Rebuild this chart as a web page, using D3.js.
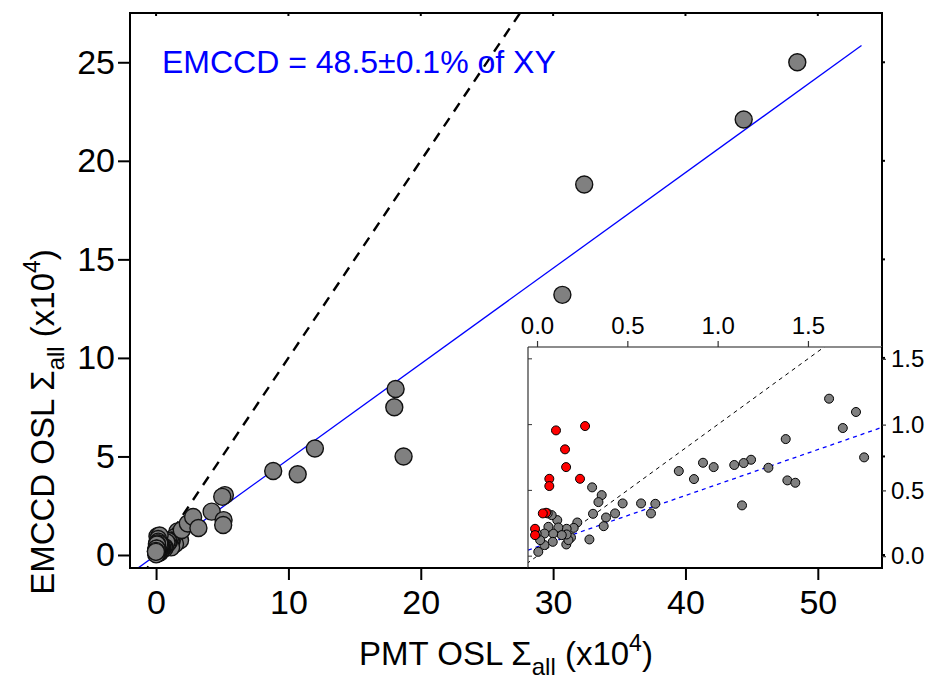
<!DOCTYPE html>
<html><head><meta charset="utf-8">
<script src="https://cdn.jsdelivr.net/npm/d3@7"></script>
<style>
body{margin:0;background:#fff}
svg{display:block}
text{font-family:"Liberation Sans",Arial,Helvetica,sans-serif}
</style>
</head><body>
<svg id="c" width="929" height="683"></svg>
<script>
// ---- data (x10^4 units) ----
const insetGrayX = [1.617,1.766,1.693,1.811,1.377,1.281,1.386,1.430,1.185,1.144,1.092,1.135,0.978,0.919,0.869,0.785,0.655,0.631,0.576,0.474,0.432,0.382,0.369,0.358,0.340,0.310,0.305,0.290,0.223,0.203,0.188,0.164,0.162,0.174,0.164,0.112,0.118,0.137,0.089,0.087,0.081,0.063,0.041,0.041,0.017,0.007,-0.002,0.059];
const insetGrayY = [1.197,1.096,0.974,0.751,0.890,0.672,0.576,0.558,0.733,0.708,0.693,0.386,0.677,0.710,0.586,0.647,0.398,0.325,0.401,0.401,0.325,0.294,0.228,0.464,0.411,0.322,0.523,0.127,0.256,0.215,0.142,0.208,0.089,0.122,0.165,0.274,0.218,0.160,0.172,0.109,0.312,0.223,0.172,0.084,0.122,0.033,0.172,0.325];
const insetRedX = [0.105,0.266,0.155,0.161,0.238,0.068,0.068,0.050,0.032,-0.011,-0.011];
const insetRedY = [0.956,0.989,0.812,0.677,0.588,0.588,0.533,0.330,0.325,0.208,0.160];
const extraX = [1.94,2.4,2.8,3.2,4.2,5.2,5.0,5.1,5.07,8.85,10.7,12.0,18.0,18.1,18.7,30.7,32.35,44.4,48.45];
const extraY = [1.27,1.6,1.93,1.37,2.2,3.04,2.95,1.77,1.52,4.26,4.1,5.4,7.5,8.42,5.0,13.2,18.8,22.1,25.0];

const xTicks = [0,10,20,30,40,50];
const yTicks = [0,5,10,15,20,25];
const insetXTicks = [0,0.5,1.0,1.5];
const insetYTicks = [0,0.5,1.0,1.5];

const fitSlope = 0.485;          // EMCCD = 48.5% of PMT
const fitXRange = [-1.6, 53.3];
const insetFitSlope = 0.476, insetFitIntercept = 0.07;
const titleText = "EMCCD = 48.5\u00B10.1% of XY";

// ---- layout ----
const svg = d3.select("#c");
const L = 130, R = 882, T = 13, B = 568;
const x = d3.scaleLinear([-1.97, 54.85], [L, R]);
const y = d3.scaleLinear([-0.66, 27.5], [B, T]);
const IL = 528, IR = 882, IT = 347, IB = 568;
const ix = d3.scaleLinear([-0.05, 1.91], [IL, IR]);
const iy = d3.scaleLinear([-0.09, 1.59], [IB, IT]);

svg.append("clipPath").attr("id","mc").append("rect").attr("x",L).attr("y",T).attr("width",R-L).attr("height",B-T);
svg.append("clipPath").attr("id","ic").append("rect").attr("x",IL).attr("y",IT).attr("width",IR-IL).attr("height",IB-IT);

const g = svg.append("g").attr("clip-path","url(#mc)");
// 1:1 line
g.append("line").attr("x1",x(-1)).attr("y1",y(-1)).attr("x2",x(28)).attr("y2",y(28))
  .attr("stroke","#000").attr("stroke-width",2.4).attr("stroke-dasharray","10,8");
// fit line
g.append("line").attr("x1",x(fitXRange[0])).attr("y1",y(fitSlope*fitXRange[0]))
  .attr("x2",x(fitXRange[1])).attr("y2",y(fitSlope*fitXRange[1]))
  .attr("stroke","#0000ff").attr("stroke-width",1.3);

const mainPts = [];
insetGrayX.forEach((v,i)=>mainPts.push([v,insetGrayY[i]]));
insetRedX.forEach((v,i)=>mainPts.push([v,insetRedY[i]]));
extraX.forEach((v,i)=>mainPts.push([v,extraY[i]]));
g.selectAll("circle.m").data(mainPts).join("circle").attr("class","m")
  .attr("cx",d=>x(d[0])).attr("cy",d=>y(d[1])).attr("r",8.5)
  .attr("fill","#808080").attr("stroke","#111").attr("stroke-width",1.4);

// frame
svg.append("rect").attr("x",L).attr("y",T).attr("width",R-L).attr("height",B-T)
  .attr("fill","none").attr("stroke","#000").attr("stroke-width",2);

// axes
const ax = svg.append("g").attr("transform",`translate(0,${B})`)
  .call(d3.axisBottom(x).tickValues(xTicks).tickSize(12).tickPadding(10).tickFormat(d3.format("d")));
const ay = svg.append("g").attr("transform",`translate(${L},0)`)
  .call(d3.axisLeft(y).tickValues(yTicks).tickSize(12).tickPadding(3).tickFormat(d3.format("d")));
[ax,ay].forEach(a=>{
  a.select(".domain").remove();
  a.selectAll(".tick line").attr("stroke","#000").attr("stroke-width",2);
  a.selectAll(".tick text").attr("font-size",34).attr("fill","#000");
});
// minor mirrored ticks top/right
svg.append("g").selectAll("line").data(xTicks).join("line")
  .attr("x1",d=>x(d)).attr("x2",d=>x(d)).attr("y1",T).attr("y2",T+3).attr("stroke","#000").attr("stroke-width",2);
svg.append("g").selectAll("line").data(yTicks).join("line")
  .attr("x1",R).attr("x2",R+3).attr("y1",d=>y(d)).attr("y2",d=>y(d)).attr("stroke","#000").attr("stroke-width",2);

// title
svg.append("text").attr("x",162).attr("y",73).attr("font-size",32).attr("fill","#0000ff").text(titleText);

// axis titles
function axisTitle(sel, main){
  sel.append("tspan").text(main + " \u03A3");
  sel.append("tspan").attr("font-size",24).attr("dy",10).text("all");
  sel.append("tspan").attr("dy",-10).text(" (x10");
  sel.append("tspan").attr("font-size",23).attr("dy",-14).text("4");
  sel.append("tspan").attr("dy",14).text(")");
}
const xt = svg.append("text").attr("x",(L+R)/2).attr("y",665).attr("text-anchor","middle").attr("font-size",33).attr("fill","#000");
axisTitle(xt, "PMT OSL");
const yt = svg.append("text").attr("transform","translate(54,422) rotate(-90)").attr("text-anchor","middle").attr("font-size",33).attr("fill","#000");
axisTitle(yt, "EMCCD OSL");

// ---- inset ----
svg.append("rect").attr("x",IL).attr("y",IT).attr("width",IR-IL).attr("height",IB-IT).attr("fill","#fff");
const gi = svg.append("g").attr("clip-path","url(#ic)");
gi.append("line").attr("x1",ix(-0.2)).attr("y1",iy(-0.2)).attr("x2",ix(2)).attr("y2",iy(2))
  .attr("stroke","#000").attr("stroke-width",1).attr("stroke-dasharray","4,4");
gi.append("line").attr("x1",ix(-0.05)).attr("y1",iy(insetFitIntercept+insetFitSlope*-0.05))
  .attr("x2",ix(1.91)).attr("y2",iy(insetFitIntercept+insetFitSlope*1.91))
  .attr("stroke","#0000ff").attr("stroke-width",1.3).attr("stroke-dasharray","4,4");
gi.selectAll("circle.g").data(insetGrayX.map((v,i)=>[v,insetGrayY[i]])).join("circle").attr("class","g")
  .attr("cx",d=>ix(d[0])).attr("cy",d=>iy(d[1])).attr("r",4.5)
  .attr("fill","#808080").attr("stroke","#000").attr("stroke-width",1);
gi.selectAll("circle.r").data(insetRedX.map((v,i)=>[v,insetRedY[i]])).join("circle").attr("class","r")
  .attr("cx",d=>ix(d[0])).attr("cy",d=>iy(d[1])).attr("r",4.5)
  .attr("fill","#ff0000").attr("stroke","#000").attr("stroke-width",1);

// inset borders
svg.append("line").attr("x1",IL).attr("x2",IR).attr("y1",IT).attr("y2",IT).attr("stroke","#666").attr("stroke-width",1.5);
svg.append("line").attr("x1",IL).attr("x2",IL).attr("y1",IT).attr("y2",IB).attr("stroke","#333").attr("stroke-width",1.2);
svg.append("line").attr("x1",IR).attr("x2",IR).attr("y1",IT).attr("y2",IB).attr("stroke","#000").attr("stroke-width",2);
svg.append("line").attr("x1",IL).attr("x2",IR).attr("y1",IB).attr("y2",IB).attr("stroke","#000").attr("stroke-width",2);

const iax = svg.append("g").attr("transform",`translate(0,${IT})`)
  .call(d3.axisTop(ix).tickValues(insetXTicks).tickSize(6).tickPadding(7).tickFormat(d3.format(".1f")));
const iay = svg.append("g").attr("transform",`translate(${IR},0)`)
  .call(d3.axisRight(iy).tickValues(insetYTicks).tickSize(4).tickPadding(5).tickFormat(d3.format(".1f")));
[iax,iay].forEach(a=>{
  a.select(".domain").remove();
  a.selectAll(".tick line").attr("stroke","#333").attr("stroke-width",1.2);
  a.selectAll(".tick text").attr("font-size",24).attr("fill","#000");
});
svg.append("g").selectAll("line").data(insetYTicks).join("line")
  .attr("x1",IL).attr("x2",IL+4).attr("y1",d=>iy(d)).attr("y2",d=>iy(d)).attr("stroke","#333").attr("stroke-width",1);
</script>
</body></html>
